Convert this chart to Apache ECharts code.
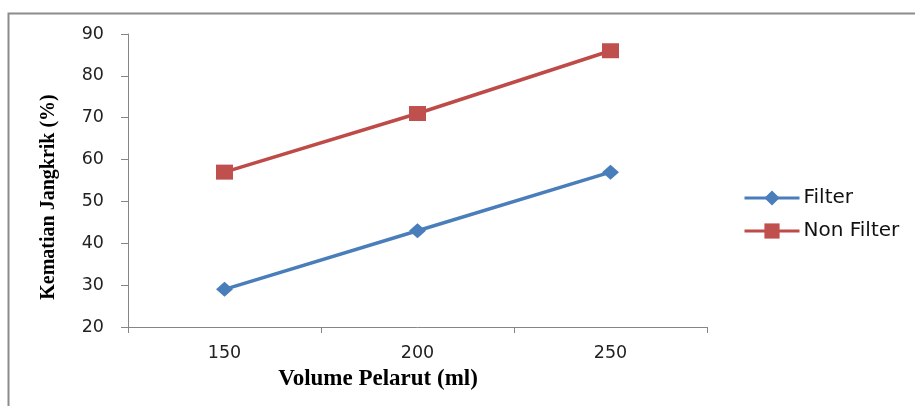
<!DOCTYPE html>
<html><head><meta charset="utf-8">
<script src="https://cdn.jsdelivr.net/npm/echarts@6/dist/echarts.min.js"></script>
<style>html,body{margin:0;padding:0;background:#fff}#c{width:915px;height:406px}</style>
</head><body><div id="c"></div>
<script>
const categories = ['150', '200', '250'];
const filterValues = [29, 43, 57];
const nonFilterValues = [57, 71, 86];
const seriesNames = ['Filter', 'Non Filter'];
const xTitle = 'Volume Pelarut (ml)';
const yTitle = 'Kematian Jangkrik (%)';

const chart = echarts.init(document.getElementById('c'));
const axisColor = '#868686';
chart.setOption({
  animation: false,
  backgroundColor: '#fff',
  graphic: [
    {type: 'rect', shape: {x: 8.5, y: 13.5, width: 1000, height: 500},
     style: {fill: 'none', stroke: '#8c8c8c', lineWidth: 2}, silent: true},
    {type: 'text', x: 378, y: 379, style: {text: xTitle, align: 'center', verticalAlign: 'middle',
      font: 'bold 23px "Liberation Serif"', fill: '#000'}},
    {type: 'text', x: 49, y: 197, rotation: Math.PI / 2, style: {text: yTitle, align: 'center', verticalAlign: 'middle',
      font: 'bold 20px "Liberation Serif"', fill: '#000'}}
  ],
  grid: {left: 128, right: 208, top: 34, bottom: 79},
  legend: {
    orient: 'vertical', left: 743, top: 188, itemGap: 13, padding: 0,
    itemWidth: 55, itemHeight: 19,
    lineStyle: {width: 3},
    textStyle: {fontFamily: 'DejaVu Sans', fontSize: 20, color: '#111', padding: [0, 0, 0, -1]},
    data: seriesNames
  },
  xAxis: {
    type: 'category', data: categories, boundaryGap: true,
    axisLine: {lineStyle: {color: axisColor, width: 1}},
    axisTick: {show: true, length: 6, lineStyle: {color: axisColor}},
    axisLabel: {fontFamily: 'DejaVu Sans', fontSize: 17.5, color: '#222', margin: 17}
  },
  yAxis: {
    type: 'value', min: 20, max: 90, interval: 10,
    axisLine: {show: true, lineStyle: {color: axisColor, width: 1}},
    axisTick: {show: true, length: 7, lineStyle: {color: axisColor}},
    splitLine: {show: false},
    axisLabel: {fontFamily: 'DejaVu Sans', fontSize: 17.5, color: '#222', margin: 24}
  },
  series: [
    {name: seriesNames[0], type: 'line', data: filterValues, symbol: 'diamond', symbolSize: [17, 15],
     lineStyle: {color: '#4A7EBB', width: 3.5}, itemStyle: {color: '#4A7EBB'}},
    {name: seriesNames[1], type: 'line', data: nonFilterValues, symbol: 'rect', symbolSize: [17, 15],
     lineStyle: {color: '#BE4B48', width: 3.5}, itemStyle: {color: '#C0504D'}}
  ]
});
</script></body></html>
